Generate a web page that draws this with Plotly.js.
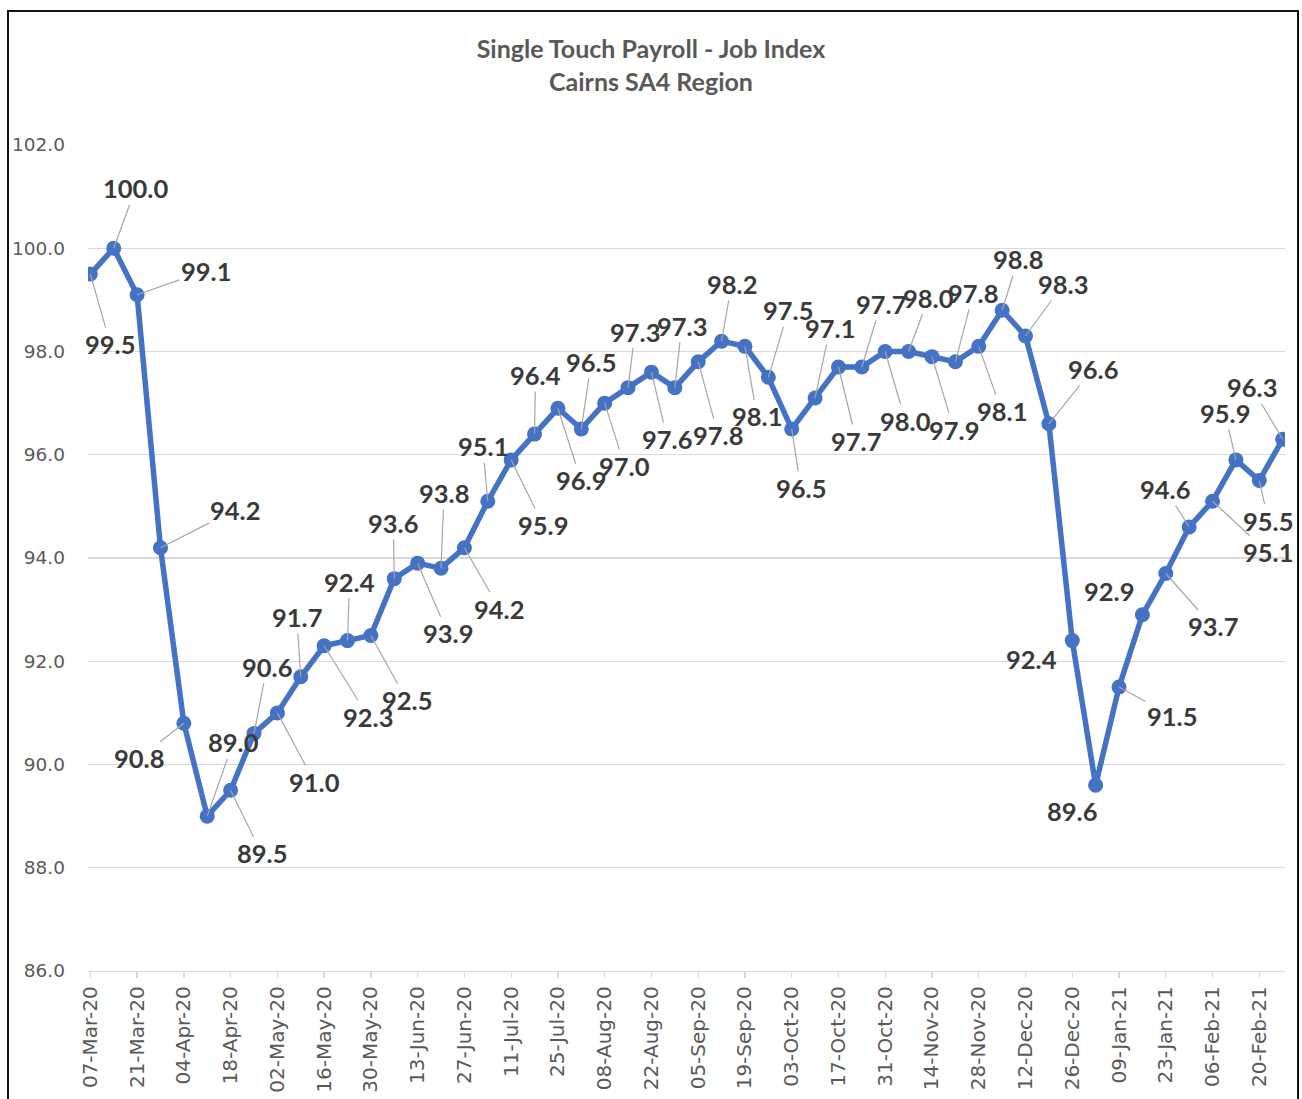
<!DOCTYPE html>
<html>
<head>
<meta charset="utf-8">
<script src="https://cdn.plot.ly/plotly-3.0.1.min.js"></script>
<style>
html,body{margin:0;padding:0;background:#fff;}
#wrap{position:relative;width:1302px;height:1099px;overflow:hidden;}
#chart{position:absolute;left:0;top:0;width:1302px;height:1099px;}
#frame{position:absolute;left:7px;top:10px;width:1288px;height:1200px;border:2px solid #111;pointer-events:none;}
</style>
</head>
<body>
<div id="wrap"><div id="chart"></div><div id="frame"></div></div>
<script>
// ---- data ----
const weeks = ["07-Mar-20","14-Mar-20","21-Mar-20","28-Mar-20","04-Apr-20","11-Apr-20","18-Apr-20","25-Apr-20",
  "02-May-20","09-May-20","16-May-20","23-May-20","30-May-20","06-Jun-20","13-Jun-20","20-Jun-20","27-Jun-20",
  "04-Jul-20","11-Jul-20","18-Jul-20","25-Jul-20","01-Aug-20","08-Aug-20","15-Aug-20","22-Aug-20","29-Aug-20",
  "05-Sep-20","12-Sep-20","19-Sep-20","26-Sep-20","03-Oct-20","10-Oct-20","17-Oct-20","24-Oct-20","31-Oct-20",
  "07-Nov-20","14-Nov-20","21-Nov-20","28-Nov-20","05-Dec-20","12-Dec-20","19-Dec-20","26-Dec-20","02-Jan-21",
  "09-Jan-21","16-Jan-21","23-Jan-21","30-Jan-21","06-Feb-21","13-Feb-21","20-Feb-21","27-Feb-21"];
const jobIndex = [99.5,100.0,99.1,94.2,90.8,89.0,89.5,90.6,91.0,91.7,92.3,92.4,92.5,93.6,93.9,93.8,94.2,
  95.1,95.9,96.4,96.9,96.5,97.0,97.3,97.6,97.3,97.8,98.2,98.1,97.5,96.5,97.1,97.7,97.7,98.0,98.0,97.9,97.8,
  98.1,98.8,98.3,96.6,92.4,89.6,91.5,92.9,93.7,94.6,95.1,95.9,95.5,96.3];
const tickLabels = ["07-Mar-20","21-Mar-20","04-Apr-20","18-Apr-20","02-May-20","16-May-20","30-May-20",
  "13-Jun-20","27-Jun-20","11-Jul-20","25-Jul-20","08-Aug-20","22-Aug-20","05-Sep-20","19-Sep-20","03-Oct-20",
  "17-Oct-20","31-Oct-20","14-Nov-20","28-Nov-20","12-Dec-20","26-Dec-20","09-Jan-21","23-Jan-21","06-Feb-21","20-Feb-21"];
const yTicks = [86,88,90,92,94,96,98,100,102];

// ---- label placement (pixel offsets of each data label from its point) ----
const labelOffsets = [[20,70],[22,-60],[69,-24],[75,-38],[-45,35],[26,-74],[31,63],[13,-67],[37,69],[-4,-60],
  [44,71],[2,-59],[36,65],[-1,-56],[30,70],[3,-75],[35,61],[-5,-55],[32,65],[1,-59],[23,72],[10,-67],[20,63],
  [7,-56],[16,67],[7,-62],[20,73],[10,-57],[12,70],[20,-67],[9,59],[15,-70],[18,74],[19,-63],[20,69],[20,-54],
  [22,73],[18,-69],[23,65],[16,-51],[38,-52],[44,-55],[-41,18],[-24,26],[53,29],[-33,-24],[47,53],[-24,-38],
  [55,51],[-11,-47],[9,40],[-31,-52]];
const noLeader = [42,43,45];

const annotations = jobIndex.map((v,i)=>({
  x: weeks[i], y: v, xref:'x', yref:'y',
  text: v.toFixed(1),
  showarrow: true, arrowhead: 0, arrowwidth: 1.2, standoff: 0,
  arrowcolor: noLeader.includes(i) ? 'rgba(0,0,0,0)' : '#a6a6a6',
  ax: labelOffsets[i][0], ay: labelOffsets[i][1],
  font: {family:'Lato, "Open Sans", sans-serif', size: 25.5, color:'#3a3a3a', weight: 700}
}));

const trace = {
  type:'scatter', mode:'lines+markers',
  x: weeks, y: jobIndex,
  line:{color:'#4472c4', width:5.5},
  marker:{color:'#4472c4', size:15},
  hoverinfo:'x+y'
};

const layout = {
  width:1302, height:1099,
  paper_bgcolor:'#ffffff', plot_bgcolor:'#ffffff',
  margin:{l:88, r:17, t:145, b:128},
  showlegend:false,
  title:{
    text:'Single Touch Payroll - Job Index<br>Cairns SA4 Region',
    font:{family:'Lato, "Open Sans", sans-serif', size:25, color:'#595959', weight:700},
    x:0.5, xanchor:'center', xref:'container',
    y:1-58/1099, yanchor:'middle', yref:'container'
  },
  xaxis:{
    type:'category', range:[-0.1, 51.1],
    tickmode:'array', tickvals: tickLabels, ticktext: tickLabels,
    tickangle:-90, ticks:'outside', ticklen:6, tickcolor:'#d9d9d9', tickwidth:1.3,
    showline:true, linecolor:'#d9d9d9', linewidth:1.3,
    showgrid:false, zeroline:false,
    tickfont:{family:'"DejaVu Sans", sans-serif', size:20, color:'#595959'}
  },
  yaxis:{
    range:[86,102], tickmode:'array', tickvals: yTicks,
    ticktext: yTicks.map(v=>v.toFixed(1)),
    showgrid:true, gridcolor:'#d9d9d9', gridwidth:1.3,
    showline:false, zeroline:false, ticks:'',
    ticklabelstandoff: 22,
    tickfont:{family:'"DejaVu Sans", sans-serif', size:18.5, color:'#595959'}
  },
  annotations: annotations
};

Plotly.newPlot('chart',[trace],layout,{displayModeBar:false, staticPlot:true});
</script>
</body>
</html>
